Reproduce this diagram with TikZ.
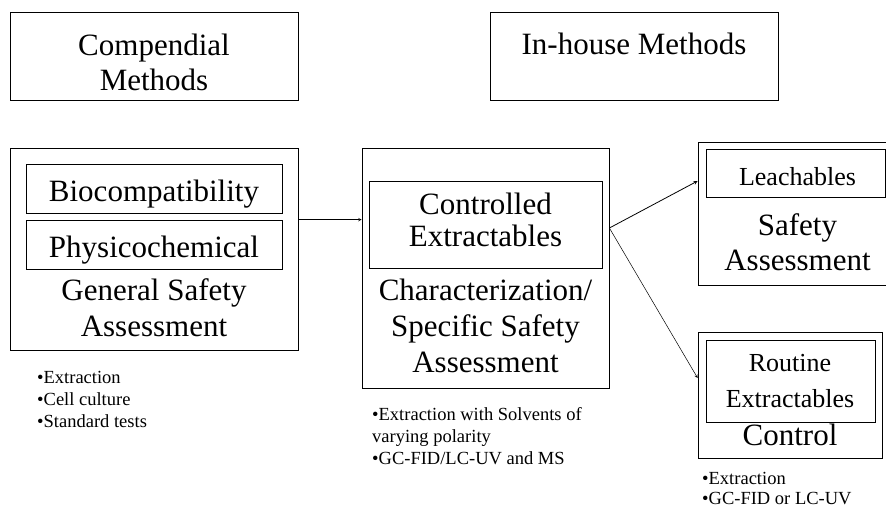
\documentclass[tikz,border=0pt]{standalone}
\usepackage{fontspec}
\setmainfont{Liberation Serif}
\begin{document}
\begin{tikzpicture}[x=1pt,y=-1pt,>=stealth,
  box/.style={draw,line width=0.8pt,inner sep=0pt},
  big/.style={inner sep=0pt,align=center,font=\fontsize{31}{36}\selectfont},
  mid/.style={inner sep=0pt,align=center,font=\fontsize{26}{36}\selectfont},
  note/.style={inner sep=0pt,anchor=west,align=left,font=\fontsize{18.5}{22}\selectfont}]
                \useasboundingbox (0,0) rectangle (886,508);
                % top headers
                \node[box,minimum width=288pt,minimum height=88pt](comp) at (154,56){};
                \node[big,text depth=0pt] at (154,62){Compendial\\[-1pt]Methods};
                \node[box,minimum width=288pt,minimum height=88pt](inh) at (634,56){};
                \node[big,anchor=base] at (634,55){In-house Methods};
                % general safety
                \node[box,minimum width=288pt,minimum height=202pt](gsa) at (154,249){};
                \node[box,minimum width=256pt,minimum height=49pt](bio) at (154,188.5){};
                \node[big,anchor=base] at (154,201){Biocompatibility};
                \node[box,minimum width=256pt,minimum height=49pt](phys) at (154,244.5){};
                \node[big,anchor=base] at (154,257){Physicochemical};
                \node[big] at (154,307.5){General Safety\\Assessment};
                \node[note] at (37,399){•Extraction\\•Cell culture\\•Standard tests};
                % characterization
                \node[box,minimum width=247pt,minimum height=240pt](csa) at (485.5,268){};
                \node[box,minimum width=233pt,minimum height=87pt](ctrl) at (485.5,224.5){};
                \node[big,font=\fontsize{31}{32}\selectfont] at (485.5,219.5){Controlled\\Extractables};
                \node[big] at (485.5,326){Characterization/\\Specific Safety\\Assessment};
                \node[note] at (372,436.5){•Extraction with Solvents of\\varying polarity\\•GC-FID/LC-UV and MS};
                % safety assessment
                \node[box,minimum width=197pt,minimum height=143pt](sa) at (796.5,213.5){};
                \node[box,minimum width=179pt,minimum height=48pt](leach) at (795.5,173){};
                \node[mid,anchor=base] at (797.5,185){Leachables};
                \node[big,font=\fontsize{31}{35}\selectfont] at (797.5,242){Safety\\Assessment};
                % control
                \node[box,minimum width=184pt,minimum height=126pt](ctl) at (790,395){};
                \node[box,minimum width=169pt,minimum height=82pt](rout) at (790.5,381){};
                \node[mid] at (790,381){Routine\\Extractables};
                \node[big,anchor=base] at (790,445){Control};
                \node[note,font=\fontsize{18.5}{20}\selectfont] at (702,489){•Extraction\\•GC-FID or LC-UV};
                % arrows
                \draw[->,line width=0.5pt](gsa.east |- phys.north) -- (csa.west |- phys.north);
                \draw[->,line width=0.8pt]([yshift=40pt]csa.east) -- ([yshift=32.5pt]sa.west);
                \draw[->,line width=0.5pt]([yshift=40pt]csa.east) -- ([yshift=17pt]ctl.west);
            \end{tikzpicture}
\end{document}
